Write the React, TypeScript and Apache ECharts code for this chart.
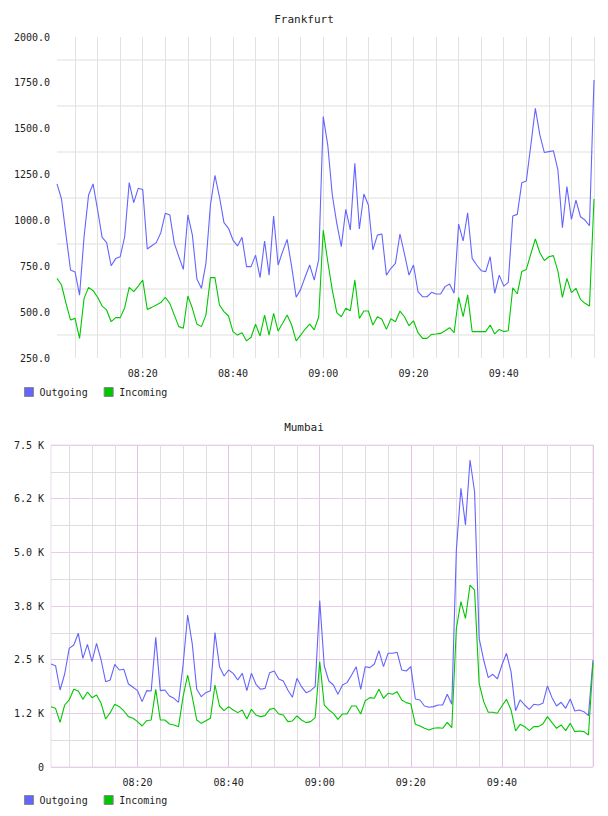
import React, { useEffect, useRef } from "react";
import * as echarts from "echarts";

// One-minute samples, 08:01 .. 10:00
const times: string[] = [];
for (let m = 1; m <= 120; m++) {
  const h = 8 + Math.floor(m / 60);
  const mm = m % 60;
  times.push(`${String(h).padStart(2, "0")}:${String(mm).padStart(2, "0")}`);
}

const frankfurtOutgoing = [
  1199, 1117, 920, 730, 719, 593, 911, 1139, 1199, 1057,
  908, 879, 753, 792, 802, 911, 1206, 1097, 1175, 1169,
  844, 862, 879, 933, 1039, 1030, 875, 802, 733, 1030,
  920, 681, 630, 766, 1084, 1245, 1129, 988, 957, 893,
  861, 908, 748, 748, 811, 688, 888, 702, 1024, 757,
  830, 897, 748, 581, 624, 693, 757, 675, 788, 1566,
  1411, 1140, 984, 857, 1060, 948, 1311, 953, 1144, 1084,
  839, 920, 926, 702, 739, 766, 926, 817, 702, 757,
  612, 584, 584, 608, 599, 599, 639, 653, 603, 980,
  888, 1042, 793, 757, 726, 721, 802, 603, 702, 642,
  662, 1024, 1033, 1206, 1215, 1410, 1611, 1466, 1370, 1375,
  1380, 1275, 960, 1184, 1006, 1111, 1020, 1002, 971, 1766,
];

const frankfurtIncoming = [
  684, 648, 548, 457, 466, 357, 575, 635, 617, 581,
  533, 512, 448, 470, 470, 524, 635, 612, 642, 675,
  515, 526, 539, 552, 581, 548, 484, 421, 412, 588,
  521, 435, 421, 484, 688, 688, 539, 503, 479, 394,
  375, 388, 343, 363, 434, 370, 484, 375, 493, 397,
  439, 484, 430, 343, 375, 408, 435, 403, 475, 948,
  775, 621, 497, 475, 521, 508, 675, 466, 506, 506,
  430, 475, 461, 406, 464, 448, 506, 475, 426, 453,
  388, 357, 357, 379, 381, 384, 399, 415, 388, 581,
  475, 594, 394, 394, 394, 394, 430, 381, 406, 394,
  399, 633, 599, 721, 733, 817, 899, 824, 781, 802,
  808, 724, 581, 684, 606, 630, 570, 548, 533, 1117,
];

const mumbaiOutgoing = [
  2399, 2360, 1794, 2166, 2764, 2842, 3114, 2531, 2857, 2454,
  2881, 2492, 1988, 2027, 2392, 2260, 2275, 1933, 1856, 1778,
  1522, 1778, 1770, 3020, 1778, 1794, 1654, 1600, 1507, 2376,
  3541, 2881, 1809, 1638, 1732, 1778, 3129, 2337, 2120, 2260,
  2182, 2027, 2182, 1778, 2182, 1926, 1809, 1832, 2197, 2236,
  2050, 2003, 1794, 1623, 2066, 1871, 1732, 1778, 1871, 3880,
  2353, 2003, 1910, 1693, 1910, 1965, 2143, 2337, 1809, 2337,
  2314, 2399, 2710, 2337, 2648, 2648, 2671, 2260, 2236, 2337,
  1584, 1561, 1421, 1390, 1406, 1444, 1444, 1693, 1460, 5054,
  6490, 5636, 7150, 6412, 2997, 2492, 2081, 2159, 2050, 2376,
  2648, 2221, 1312, 1561, 1444, 1343, 1460, 1444, 1483, 1887,
  1615, 1421, 1507, 1367, 1584, 1305, 1328, 1289, 1196, 2492,
];

const mumbaiIncoming = [
  1405, 1367, 1041, 1444, 1561, 1809, 1770, 1576, 1747, 1615,
  1677, 1483, 1118, 1266, 1460, 1405, 1305, 1173, 1134, 1056,
  955, 1079, 1095, 1809, 1095, 1095, 1002, 979, 940, 1638,
  2143, 1638, 1095, 1017, 1079, 1134, 1910, 1421, 1312, 1405,
  1328, 1266, 1328, 1118, 1343, 1211, 1173, 1196, 1343, 1367,
  1235, 1211, 1056, 1072, 1188, 1095, 1033, 1056, 1149, 2454,
  1444, 1328, 1250, 1110, 1235, 1235, 1421, 1421, 1235, 1545,
  1615, 1600, 1809, 1600, 1716, 1693, 1755, 1561, 1499, 1468,
  994, 955, 901, 862, 901, 916, 901, 1041, 916, 3230,
  3851, 3463, 4239, 4122, 1949, 1522, 1274, 1274, 1250, 1421,
  1576, 1328, 839, 994, 940, 847, 940, 940, 1002, 1173,
  1033, 901, 979, 847, 1017, 823, 839, 823, 746, 2430,
];

const frankfurtTickLabels = ["250.0", "500.0", "750.0", "1000.0", "1250.0", "1500.0", "1750.0", "2000.0"];
const mumbaiTickLabels = ["0", "1.2 K", "2.5 K", "3.8 K", "5.0 K", "6.2 K", "7.5 K"];
const seriesNames = ["Outgoing", "Incoming"];

const MONO = "'DejaVu Sans Mono', monospace";
const BLUE = "#6464ff";
const GREEN = "#00c800";
const TEXT = "#222";

const minuteOf = (v: string) => parseInt(v.slice(3), 10);
const isLabelTime = (i: number, v: string) => i < times.length - 1 && minuteOf(v) % 20 === 0;

function App() {
  const ref = useRef<HTMLDivElement>(null);

  useEffect(() => {
    if (!ref.current) return;
    const chart = echarts.init(ref.current, undefined, { renderer: "svg" });

    const axisLabelBase = { fontFamily: MONO, fontSize: 10, color: TEXT };

    const legendBase = {
      data: seriesNames,
      left: 24,
      padding: 0,
      itemWidth: 9,
      itemHeight: 9,
      itemGap: 16,
      icon: "rect",
      itemStyle: { borderColor: "#888", borderWidth: 1 },
      textStyle: { fontFamily: MONO, fontSize: 10, color: TEXT, padding: [0, 0, 0, 1] },
      selectedMode: false,
    };

    const lineSeries = (name: string, data: number[], color: string, idx: number) => ({
      name,
      type: "line",
      data,
      xAxisIndex: idx === 0 ? 0 : 1,
      yAxisIndex: idx,
      symbol: "none",
      color,
      lineStyle: { color, width: 1.1 },
      z: 5,
    });

    chart.setOption({
      animation: false,
      backgroundColor: "#fff",
      title: [
        {
          text: "Frankfurt",
          left: "center",
          top: 14,
          padding: 0,
          textStyle: { fontFamily: MONO, fontSize: 11, fontWeight: "normal", color: TEXT },
        },
        {
          text: "Mumbai",
          left: "center",
          top: 422,
          padding: 0,
          textStyle: { fontFamily: MONO, fontSize: 11, fontWeight: "normal", color: TEXT },
        },
      ],
      legend: [
        { ...legendBase, top: 387 },
        { ...legendBase, top: 795 },
      ],
      grid: [
        { left: 57, right: 14, top: 37, height: 321 },
        {
          left: 51,
          right: 15,
          top: 445,
          height: 322,
          show: true,
          borderColor: "#ecdcec",
          borderWidth: 1,
        },
      ],
      xAxis: [
        {
          type: "category",
          gridIndex: 0,
          data: times,
          boundaryGap: false,
          axisLine: { show: false },
          axisTick: { show: false },
          axisLabel: { ...axisLabelBase, margin: 10, interval: isLabelTime },
          splitLine: {
            show: true,
            interval: (_i: number, v: string) => minuteOf(v) % 5 === 0,
            lineStyle: { color: "#e2e2e2", width: 1 },
          },
        },
        {
          type: "category",
          gridIndex: 1,
          data: times,
          boundaryGap: false,
          axisLine: { show: false },
          axisTick: { show: false },
          axisLabel: { ...axisLabelBase, margin: 10, interval: isLabelTime },
          splitLine: {
            show: true,
            interval: (_i: number, v: string) => minuteOf(v) % 5 === 0 && minuteOf(v) % 20 !== 0,
            lineStyle: { color: "#dedede", width: 1 },
          },
        },
        {
          type: "category",
          gridIndex: 1,
          position: "top",
          data: times,
          boundaryGap: false,
          axisLine: { show: false },
          axisTick: { show: false },
          axisLabel: { show: false },
          splitLine: {
            show: true,
            interval: (_i: number, v: string) => minuteOf(v) % 20 === 0,
            lineStyle: { color: "#e4c4e4", width: 1 },
          },
        },
      ],
      yAxis: [
        {
          type: "value",
          gridIndex: 0,
          min: 250,
          max: 2000,
          interval: 250,
          axisLine: { show: false },
          axisTick: { show: false },
          axisLabel: {
            ...axisLabelBase,
            margin: 7,
            formatter: (v: number) => frankfurtTickLabels[Math.round((v - 250) / 250)] ?? "",
          },
          splitLine: { show: false },
          minorTick: { show: false, splitNumber: 2 },
          minorSplitLine: { show: true, lineStyle: { color: "#efefef", width: 2 } },
        },
        {
          type: "value",
          gridIndex: 1,
          min: 0,
          max: 7500,
          interval: 1250,
          axisLine: { show: false },
          axisTick: { show: false },
          axisLabel: {
            ...axisLabelBase,
            margin: 7,
            formatter: (v: number) => mumbaiTickLabels[Math.round(v / 1250)] ?? "",
          },
          splitLine: { show: true, lineStyle: { color: "#e8cce8", width: 1 } },
          minorTick: { show: false, splitNumber: 2 },
          minorSplitLine: { show: true, lineStyle: { color: "#dedede", width: 1 } },
        },
      ],
      series: [
        lineSeries("Outgoing", frankfurtOutgoing, BLUE, 0),
        lineSeries("Incoming", frankfurtIncoming, GREEN, 0),
        lineSeries("Outgoing", mumbaiOutgoing, BLUE, 1),
        lineSeries("Incoming", mumbaiIncoming, GREEN, 1),
      ],
    });

    return () => chart.dispose();
  }, []);

  return (
    <div
      ref={ref}
      style={{ position: "fixed", left: 0, top: 0, width: 608, height: 816, background: "#fff" }}
    />
  );
}

export default App;
